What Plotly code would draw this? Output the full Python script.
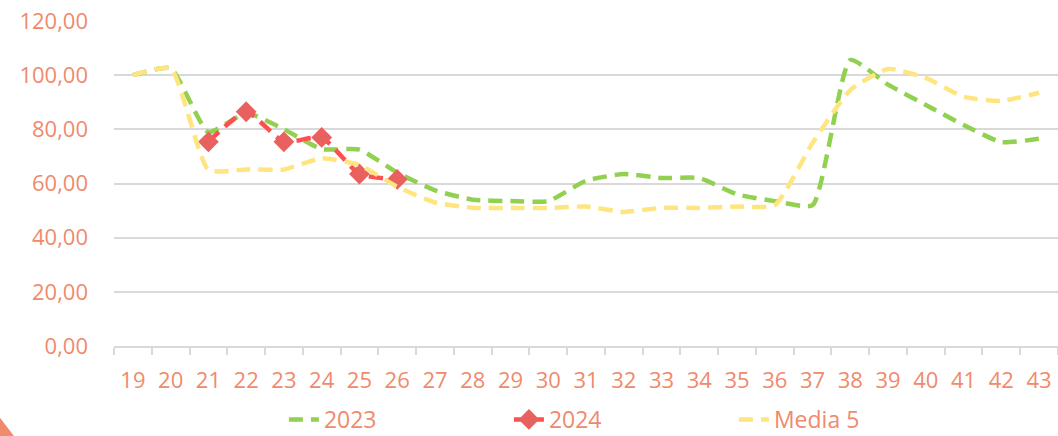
import plotly.graph_objects as go

weeks = [str(w) for w in range(19, 44)]
s2023 = [100, 102.5, 79, 86, 80, 72.7, 72.5, 64, 57.5, 54, 53.5, 53.5, 61, 63.5, 62, 62,
         56, 53.5, 52, 105.6, 96.5, 89, 81.6, 75.3, 76.5]
s2024 = [None, None, 75.4, 86.5, 75.4, 77, 63.5, 61.5] + [None] * 17
media5 = [100, 102.5, 65, 65.2, 65.2, 69.3, 66.8, 58.8, 53, 51, 51, 51, 51.5, 49.5, 51, 51,
          51.5, 52, 75, 94.5, 102.3, 99, 92, 90.5, 93.5]
y_ticks = [0, 20, 40, 60, 80, 100, 120]
y_labels = ["0,00", "20,00", "40,00", "60,00", "80,00", "100,00", "120,00"]

txt = "#F08A6C"
font = "Open Sans, sans-serif"
dash = "14px,8px"

fig = go.Figure()
fig.add_trace(go.Scatter(x=weeks, y=s2023, name="2023", mode="lines",
                         line=dict(color="#92D050", width=4.5, dash=dash, shape="spline", smoothing=0.5)))
fig.add_trace(go.Scatter(x=weeks, y=s2024, name="2024", mode="lines+markers",
                         line=dict(color="#FF5050", width=4.5, dash=dash, shape="spline", smoothing=0.5),
                         marker=dict(symbol="diamond", size=16, color="#E8615F")))
fig.add_trace(go.Scatter(x=weeks, y=media5, name="Media 5", mode="lines",
                         line=dict(color="#FFE57F", width=4.5, dash=dash, shape="spline", smoothing=0.5)))

fig.update_layout(
    width=1058, height=436,
    margin=dict(l=114, r=0, t=21, b=90, autoexpand=False),
    paper_bgcolor="white", plot_bgcolor="white",
    font=dict(family=font, color=txt, size=22),
    showlegend=True,
    legend=dict(orientation="h", x=0.18, xanchor="left", y=-0.226, yanchor="middle",
                font=dict(size=23, color=txt), entrywidth=180, entrywidthmode="pixels",
                traceorder="normal", bgcolor="rgba(0,0,0,0)"),
    shapes=[dict(type="path", xref="paper", yref="paper",
                 path="M -0.1208,-0.221 L -0.1208,-0.277 L -0.106,-0.277 Z",
                 fillcolor="#F08A6C", line=dict(width=0))],
)
fig.update_xaxes(type="category", tickson="boundaries", ticks="outside", ticklen=7,
                 tickcolor="#D9D9D9", tickwidth=1.5, showline=True, linecolor="#D9D9D9",
                 linewidth=1.5, showgrid=False, ticklabelstandoff=14, automargin=False,
                 tickfont=dict(size=22, color=txt), range=[-0.5, 24.5])
fig.update_yaxes(range=[0, 120], tickvals=y_ticks, ticktext=y_labels, showgrid=True,
                 gridcolor="#D9D9D9", gridwidth=1.5, zeroline=False, showline=False,
                 ticklabelstandoff=25, automargin=False, tickfont=dict(size=22, color=txt))

fig.write_html("out.html", config={"displayModeBar": False},
               post_script="document.body.style.margin='0';document.body.style.overflow='hidden';")
